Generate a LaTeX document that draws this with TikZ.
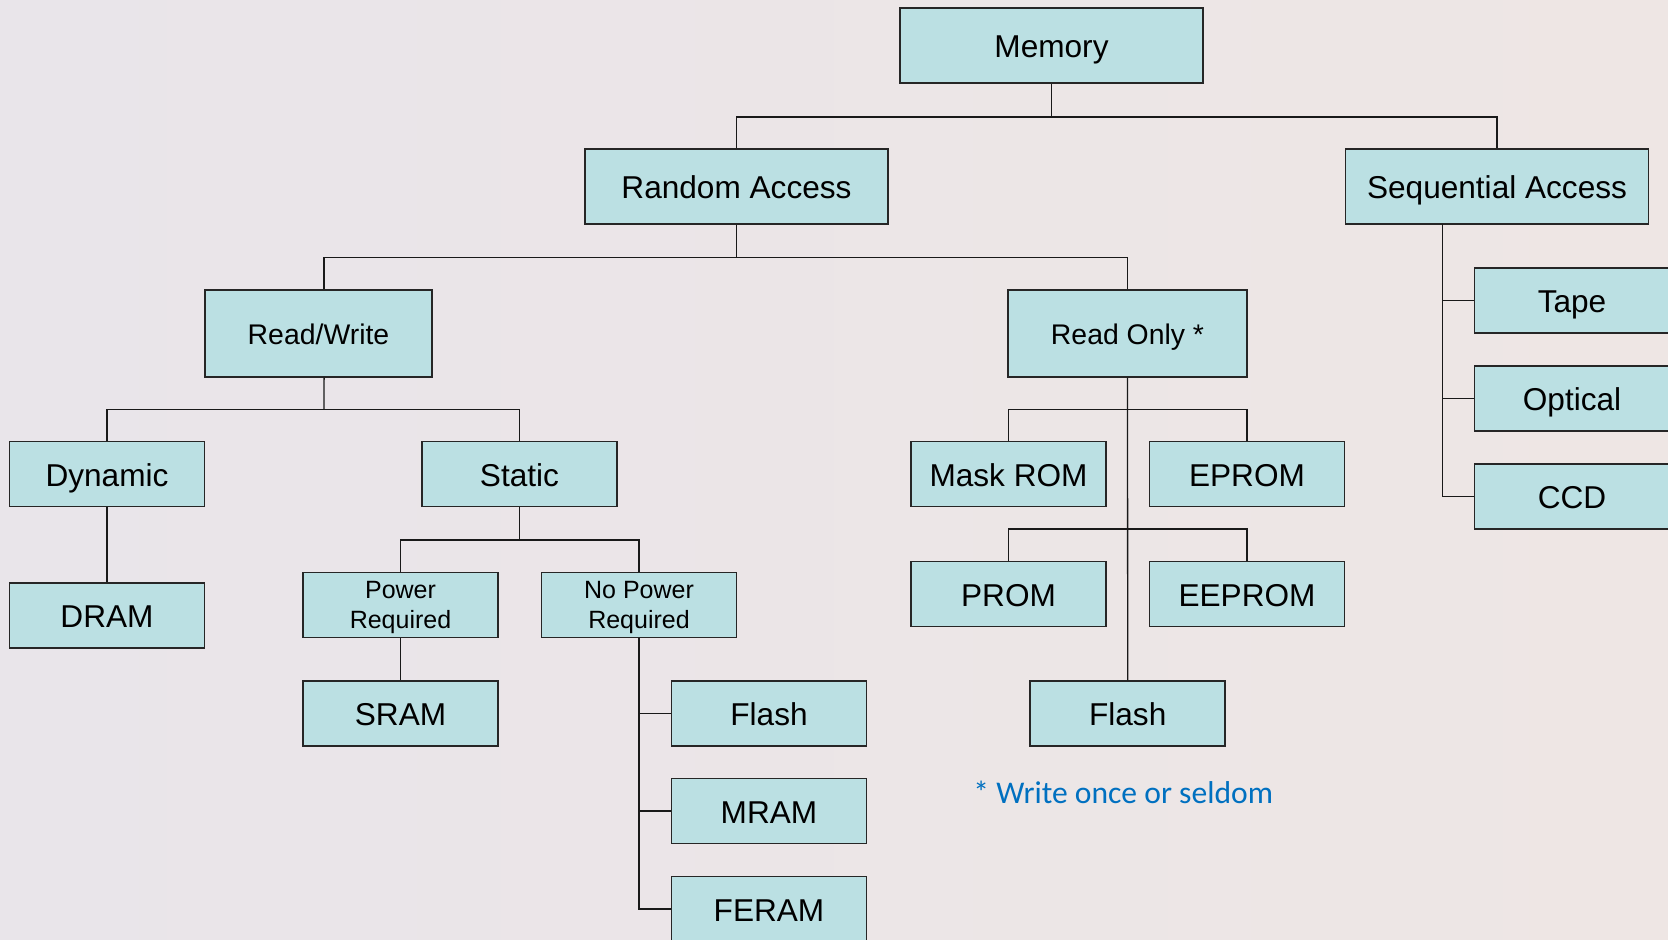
\documentclass[tikz,border=0pt]{standalone}
\usepackage{fontspec}
\setmainfont{Liberation Sans}
\newfontfamily\notefont{Carlito}
\definecolor{boxfill}{RGB}{187,224,227}
\definecolor{noteblue}{RGB}{0,112,192}
\definecolor{bgleft}{RGB}{233,229,234}
\definecolor{bgmid}{RGB}{242,234,227}
\definecolor{bgright}{RGB}{238,230,228}
\tikzset{
  cell/.style={draw=black!85, fill=boxfill, line width=0.75pt, inner sep=0pt, align=center},
  wide/.style={cell, minimum width=151.5pt, minimum height=37.5pt,
    font=\fontsize{15.8}{19}\selectfont, text height=12.3pt, text depth=0pt},
  mid/.style={cell, minimum height=43.5pt,
    font=\fontsize{14.2}{17}\selectfont, text height=11.2pt, text depth=0pt},
  leaf/.style={cell, minimum width=97.5pt, minimum height=32.5pt,
    font=\fontsize{15.8}{19}\selectfont, text height=12.3pt, text depth=0pt},
  twoline/.style={cell, minimum width=97.5pt, minimum height=32.5pt,
    font=\fontsize{12.5}{15.2}\selectfont, text height=24.4pt, text depth=0.8pt},
  link/.style={line width=0.65pt, black!90}
}
\begin{document}
\begin{tikzpicture}[x=0.5pt,y=-0.5pt]
    % Background
    \useasboundingbox (0,0) rectangle (1668,940);
    \clip (0,0) rectangle (1668,940);
    \shade[left color=bgleft, middle color=bgmid, right color=bgright] (0,0) rectangle (1668,940);

    % Top levels
    \node[wide] (mem) at (1051.5,45.7) {Memory};
    \node[wide] (ra) at (736.5,186.5) {Random Access};
    \node[wide] (sa) at (1497,186.5) {Sequential Access};

    % Random access branch
    \node[mid, minimum width=113.5pt] (rw) at (318.5,333.5) {Read/Write};
    \node[mid, minimum width=119.5pt] (ro) at (1127.5,333.5) {Read Only *};
    \node[leaf] (dyn) at (107,474) {Dynamic};
    \node[leaf] (stat) at (519.5,474) {Static};
    \node[leaf] (dram) at (107,615.5) {DRAM};
    \node[twoline] (pwr) at (400.5,604.8) {Power\\Required};
    \node[twoline] (nopwr) at (639,604.8) {No Power\\Required};
    \node[leaf] (sram) at (400.5,713.5) {SRAM};
    \node[leaf] (flasha) at (769,713.5) {Flash};
    \node[leaf] (mram) at (769,811) {MRAM};
    \node[leaf] (feram) at (769,909) {FERAM};

    % Read only branch
    \node[leaf] (mrom) at (1008.5,474) {Mask ROM};
    \node[leaf] (eprom) at (1247,474) {EPROM};
    \node[leaf] (prom) at (1008.5,594) {PROM};
    \node[leaf] (eeprom) at (1247,594) {EEPROM};
    \node[leaf] (flashb) at (1127.7,713.5) {Flash};

    % Sequential branch
    \node[leaf] (tape) at (1572,300.5) {Tape};
    \node[leaf] (optical) at (1572,398.5) {Optical};
    \node[leaf] (ccd) at (1572,496.5) {CCD};

    % Connectors
    \coordinate (bmem) at (1051.5,117);
    \draw[link] (mem.south) -- (bmem);
    \draw[link] (ra.north) |- (bmem) -| (sa.north);

    \coordinate (bra) at (736.5,257.5);
    \draw[link] (ra.south) -- (bra);
    \draw[link] ([xshift=2.8pt]rw.north) |- (bra) -| (ro.north);

    \coordinate (brw) at (324,409.6);
    \draw[link] ([xshift=2.8pt]rw.south) -- (brw);
    \draw[link] (dyn.north) |- (brw) -| (stat.north);
    \draw[link] (dyn.south) -- (dram.north);

    \coordinate (bst) at (519.5,540);
    \draw[link] (stat.south) -- (bst);
    \draw[link] (pwr.north) |- (bst) -| (nopwr.north);
    \draw[link] (pwr.south) -- (sram.north);
    \draw[link] (nopwr.south) |- (feram.west);
    \draw[link] (nopwr.south |- flasha.west) -- (flasha.west);
    \draw[link] (nopwr.south |- mram.west) -- (mram.west);

    \draw[link] (ro.south) -- (flashb.north);
    \coordinate (bro1) at (1127.5,409.6);
    \draw[link] (mrom.north) |- (bro1) -| (eprom.north);
    \coordinate (bro2) at (1127.5,529);
    \draw[link] (prom.north) |- (bro2) -| (eeprom.north);

    \coordinate (bsa) at (1442.5,224);
    \draw[link] (bsa) |- (ccd.west);
    \draw[link] (bsa |- tape.west) -- (tape.west);
    \draw[link] (bsa |- optical.west) -- (optical.west);

    % Note
    \node[anchor=base west, text=noteblue, inner sep=0pt,
      font=\notefont\fontsize{15.8}{19}\selectfont] (note) at (973,803) {* Write once or seldom};
\end{tikzpicture}
\end{document}
